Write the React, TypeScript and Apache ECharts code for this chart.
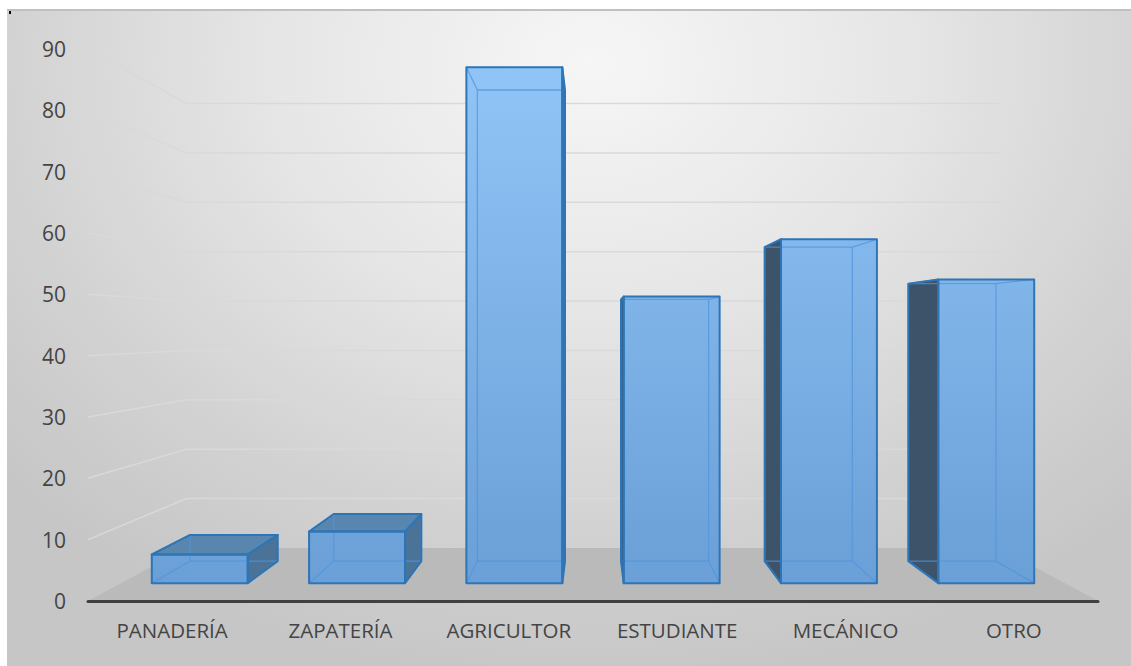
import React, { useEffect, useRef } from "react";
import * as echarts from "echarts";

const categories = ["PANADERÍA", "ZAPATERÍA", "AGRICULTOR", "ESTUDIANTE", "MECÁNICO", "OTRO"];
const values = [5, 9, 90, 50, 60, 53];
const yTicks = [0, 10, 20, 30, 40, 50, 60, 70, 80, 90];

// perspective camera parameters (presentation only)
const EYE = 44.4; // eye height, in value units
const K = 0.242; // depth shrink factor: back wall scale = 1/(1+K)
const D0 = 0.29; // bar front depth
const D1 = 0.71; // bar back depth
const BAR_W = 0.61; // bar width as share of category band

export default function App() {
  const ref = useRef<HTMLDivElement>(null);

  useEffect(() => {
    const chart = echarts.init(ref.current as HTMLDivElement, null, { renderer: "svg" });

    const makeProj = (params: any, api: any) => {
      const cs = params.coordSys;
      const vx = cs.x + cs.width / 2;
      const vy = api.coord([0, EYE])[1];
      const P = (x: number, y: number, d: number) => {
        const s = 1 / (1 + d * K);
        return [vx + (x - vx) * s, vy + (y - vy) * s];
      };
      return { P, vx, vy };
    };

    const wallsRender = (params: any, api: any) => {
      const cs = params.coordSys;
      const { P } = makeProj(params, api);
      const xl = cs.x;
      const xr = cs.x + cs.width;
      const y0 = api.coord([0, 0])[1];
      const children: any[] = [];
      children.push({
        type: "polygon",
        shape: { points: [[xl, y0], [xr, y0], P(xr, y0, 1), P(xl, y0, 1)] },
        style: { fill: "#bababa", stroke: "none" },
      });
      yTicks.forEach((t) => {
        if (t === 0) return;
        const y = api.coord([0, t])[1];
        children.push({
          type: "polyline",
          shape: { points: [[xl, y], P(xl, y, 1), P(xr, y, 1)] },
          style: { stroke: "#d9d9d9", lineWidth: 1.5, fill: "none" },
        });
      });
      return { type: "group", children };
    };

    const barsRender = (params: any, api: any) => {
      const { P, vx, vy } = makeProj(params, api);
      const i = api.value(0);
      const v = api.value(1);
      const top = api.coord([i, v]);
      const bot = api.coord([i, 0]);
      const hw = (api.size([1, 0])[0] * BAR_W) / 2;
      const xl = top[0] - hw;
      const xr = top[0] + hw;
      const yt = top[1];
      const yb = bot[1];
      const FLB = P(xl, yb, D0), FRB = P(xr, yb, D0), FRT = P(xr, yt, D0), FLT = P(xl, yt, D0);
      const BLB = P(xl, yb, D1), BRB = P(xr, yb, D1), BRT = P(xr, yt, D1), BLT = P(xl, yt, D1);
      const yTopAll = api.coord([0, 90])[1];
      const grad = new echarts.graphic.LinearGradient(
        0, yTopAll, 0, yb,
        [
          { offset: 0, color: "#92c6f8" },
          { offset: 1, color: "#699ed6" },
        ],
        true
      );
      const children: any[] = [];
      const faces: any[][] = [];
      if (FLB[0] > vx) {
        const pts = [FLT, FLB, BLB, BLT];
        faces.push(pts);
        children.push({ type: "polygon", shape: { points: pts }, style: { fill: "#3c5369", stroke: "none" } });
      }
      if (FRB[0] < vx) {
        const pts = [FRT, FRB, BRB, BRT];
        faces.push(pts);
        children.push({ type: "polygon", shape: { points: pts }, style: { fill: "#4a7397", stroke: "none" } });
      }
      if (FLT[1] > vy) {
        const pts = [FLT, FRT, BRT, BLT];
        faces.push(pts);
        children.push({ type: "polygon", shape: { points: pts }, style: { fill: "#5986af", stroke: "none" } });
      }
      const front = [FLT, FRT, FRB, FLB];
      faces.push(front);
      children.push({ type: "polygon", shape: { points: front }, style: { fill: grad, stroke: "none" } });
      // hidden (see-through) edges
      const hidden = [
        [BLB, BRB], [BRB, BRT], [BRT, BLT], [BLT, BLB],
        [FLB, BLB], [FRB, BRB], [FLT, BLT], [FRT, BRT],
      ];
      hidden.forEach(([a, b]) => {
        children.push({
          type: "line",
          shape: { x1: a[0], y1: a[1], x2: b[0], y2: b[1] },
          style: { stroke: "rgba(80,150,220,0.75)", lineWidth: 1.3, fill: "none" },
        });
      });
      faces.forEach((pts) => {
        children.push({
          type: "polygon",
          shape: { points: pts },
          style: { fill: "none", stroke: "#2e75b6", lineWidth: 2, lineJoin: "round" },
        });
      });
      return { type: "group", children };
    };

    chart.setOption({
      animation: false,
      backgroundColor: "transparent",
      grid: { left: 81, right: 33, top: 40, bottom: 65, containLabel: false },
      xAxis: {
        type: "category",
        data: categories,
        z: 10,
        axisLine: { show: true, lineStyle: { color: "#404040", width: 3 } },
        axisTick: { show: false },
        splitLine: { show: false },
        axisLabel: { color: "#444444", fontSize: 20.5, fontFamily: "Open Sans", margin: 18 },
      },
      yAxis: {
        type: "value",
        min: 0,
        max: 90,
        interval: 10,
        axisLine: { show: false },
        axisTick: { show: false },
        splitLine: { show: false },
        axisLabel: { color: "#444444", fontSize: 21, fontFamily: "Open Sans", margin: 22 },
      },
      series: [
        {
          type: "custom",
          name: "walls",
          z: 1,
          silent: true,
          data: [[0, 0]],
          renderItem: wallsRender,
        },
        {
          type: "custom",
          name: "Ocupación",
          z: 2,
          data: values.map((v, i) => [i, v]),
          renderItem: barsRender,
        },
      ],
    });

    return () => chart.dispose();
  }, []);

  return (
    <div style={{ position: "fixed", left: 0, top: 0, width: 1131, height: 666, background: "#ffffff", overflow: "hidden" }}>
      <div
        style={{
          position: "absolute",
          left: 7,
          top: 9,
          width: 1124,
          height: 657,
          boxSizing: "border-box",
          borderTop: "2px solid #c0c0c0",
          background:
            "radial-gradient(ellipse 70% 95% at 52% 8%, #f6f6f6 0%, #e6e6e6 40%, #d2d2d2 75%, #c6c6c6 100%)",
        }}
      />
      <div style={{ position: "absolute", left: 9, top: 11, width: 2, height: 3, background: "#000" }} />
      <div ref={ref} style={{ position: "absolute", left: 7, top: 9, width: 1124, height: 657 }} />
    </div>
  );
}
